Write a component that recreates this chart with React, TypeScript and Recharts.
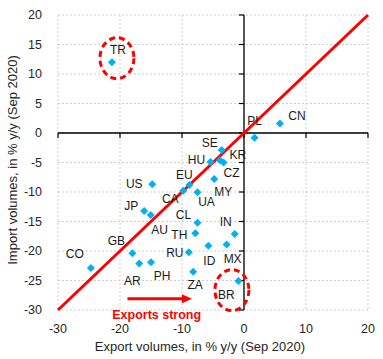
import React from 'react';
import { ScatterChart, Scatter, XAxis, YAxis, CartesianGrid, ReferenceLine, ReferenceDot } from 'recharts';

const countries = ['TR', 'CN', 'PL', 'SE', 'HU', 'KR', 'CZ', 'MY', 'EU', 'US', 'CA', 'UA', 'JP', 'AU', 'CL', 'TH', 'IN', 'GB', 'CO', 'AR', 'PH', 'RU', 'ID', 'MX', 'ZA', 'BR'];
const exportVolumes = [-21.3, 5.8, 1.7, -3.6, -5.4, -3.9, -3.3, -4.8, -8.8, -14.8, -9.8, -7.5, -16.1, -15.05, -7.5, -7.85, -1.5, -18.0, -24.7, -16.9, -15.0, -8.9, -5.75, -2.8, -8.2, -0.9];
const importVolumes = [12.0, 1.6, -0.8, -2.9, -4.9, -4.6, -5.0, -7.8, -8.8, -8.7, -9.8, -10.05, -13.2, -13.9, -15.2, -17.0, -17.1, -20.4, -22.9, -22.1, -21.9, -20.2, -19.1, -18.9, -23.5, -25.1];
const xTicks = [-30, -20, -10, 0, 10, 20];
const yTicks = [-30, -25, -20, -15, -10, -5, 0, 5, 10, 15, 20];
const highlighted = ['TR', 'BR'];

// label placement (pixel offsets of label centre from the marker)
const labelOffsets: Record<string, [number, number]> = {
  TR: [6, -12], CN: [17, -8], PL: [0, -17], SE: [-12, -7], HU: [-14, -2], KR: [18, -5],
  CZ: [8, 10], MY: [9, 13], EU: [-5, -10], US: [-18, 0], CA: [-13, 8], UA: [9, 10],
  JP: [-13, -5], AU: [9, 15], CL: [-14, -8], TH: [-16, 2], IN: [-9, -12], GB: [-16, -12],
  CO: [-16, -14], AR: [-7, 18], PH: [11, 14], RU: [-14, 1], ID: [1, 15], MX: [6, 14],
  ZA: [2, 13], BR: [-12, 14],
};
const ellipseOffsets: Record<string, [number, number]> = { TR: [5, -4], BR: [-6.5, 9] };

const data = countries.map((name, i) => ({ name, x: exportVolumes[i], y: importVolumes[i] }));

const FONT = 'Liberation Sans, Arial, sans-serif';
const BLUE = '#00B0F0';
const RED = '#FF0000';

const DiamondWithLabel = (props: any) => {
  const { cx, cy, payload } = props;
  const off = labelOffsets[payload.name] || [10, 0];
  const s = 4;
  return (
    <g>
      <polygon points={`${cx},${cy - s} ${cx + s},${cy} ${cx},${cy + s} ${cx - s},${cy}`} fill={BLUE} />
      <text x={cx + off[0]} y={cy + off[1]} textAnchor="middle" dominantBaseline="central" fontSize={12} fill="#1a1a1a" fontFamily={FONT}>
        {payload.name}
      </text>
    </g>
  );
};

const VerticalAxisLine = (props: any) => {
  const { x1, y1, y2 } = props;
  const top = Math.min(y1, y2);
  const bottom = Math.max(y1, y2);
  const n = yTicks.length - 1;
  const step = (bottom - top) / n;
  return (
    <g>
      <line x1={x1} y1={top} x2={x1} y2={bottom} stroke="#000" strokeWidth={1.3} />
      {yTicks.map((t, i) => (
        <line key={t} x1={x1 - 5} x2={x1} y1={top + i * step} y2={top + i * step} stroke="#000" strokeWidth={1.2} />
      ))}
    </g>
  );
};

const HorizontalAxisLine = (props: any) => {
  const { x1, x2, y1 } = props;
  const left = Math.min(x1, x2);
  const right = Math.max(x1, x2);
  const n = xTicks.length - 1;
  const step = (right - left) / n;
  return (
    <g>
      <line x1={left} y1={y1} x2={right} y2={y1} stroke="#000" strokeWidth={1.3} />
      {xTicks.map((t, i) => (
        <line key={t} x1={left + i * step} x2={left + i * step} y1={y1} y2={y1 + 5} stroke="#000" strokeWidth={1.2} />
      ))}
    </g>
  );
};

const ArrowShape = (props: any) => {
  const { x1, x2, y1 } = props;
  const start = Math.min(x1, x2);
  const end = Math.max(x1, x2);
  return (
    <g>
      <line x1={start} y1={y1} x2={end - 8} y2={y1} stroke={RED} strokeWidth={3} />
      <polygon points={`${end},${y1} ${end - 10},${y1 - 4.5} ${end - 10},${y1 + 4.5}`} fill={RED} />
      <text x={(start + end) / 2 - 3} y={y1 + 16} textAnchor="middle" dominantBaseline="central" fontSize={12.5} fontWeight="bold" fill={RED} fontFamily={FONT}>
        Exports strong
      </text>
    </g>
  );
};

const makeEllipse = (name: string) => (props: any) => {
  const { cx, cy } = props;
  const off = ellipseOffsets[name];
  return (
    <ellipse cx={cx + off[0]} cy={cy + off[1]} rx={17} ry={20.5} fill="none" stroke={RED} strokeWidth={3} strokeDasharray="6 4" />
  );
};

export default function App() {
  return (
    <div style={{ position: 'absolute', left: 0, top: 0, fontFamily: FONT }}>
      <ScatterChart width={383} height={359} margin={{ top: 15, right: 15, bottom: 0, left: 0 }}>
        <CartesianGrid stroke="#d0d0d0" strokeDasharray="2 2" />
        <XAxis
          type="number"
          dataKey="x"
          domain={[-30, 20]}
          ticks={xTicks}
          axisLine={false}
          tickLine={false}
          tickMargin={8}
          height={49}
          tick={{ fontSize: 12.5, fill: '#262626', fontFamily: FONT }}
          interval={0}
          label={{
            content: () => (
              <text x={200} y={346} textAnchor="middle" dominantBaseline="central" fontSize={13} fill="#262626" fontFamily={FONT}>
                Export volumes, in % y/y (Sep 2020)
              </text>
            ),
          }}
        />
        <YAxis
          type="number"
          dataKey="y"
          domain={[-30, 20]}
          ticks={yTicks}
          axisLine={false}
          tickLine={false}
          tickSize={6}
          tickMargin={10}
          width={58}
          interval={0}
          tick={{ fontSize: 12.5, fill: '#262626', fontFamily: FONT }}
          label={{
            content: () => (
              <text x={12} y={160} transform="rotate(-90 12 160)" textAnchor="middle" dominantBaseline="central" fontSize={13} fill="#262626" fontFamily={FONT}>
                Import volumes, in % y/y (Sep 2020)
              </text>
            ),
          }}
        />
        <ReferenceLine x={0} shape={VerticalAxisLine} ifOverflow="visible" />
        <ReferenceLine y={0} shape={HorizontalAxisLine} ifOverflow="visible" />
        <Scatter data={data} shape={DiamondWithLabel} isAnimationActive={false} />
        <ReferenceLine segment={[{ x: -30, y: -30 }, { x: 20, y: 20 }]} stroke={RED} strokeWidth={3} ifOverflow="visible" />
        {highlighted.map((name) => {
          const i = countries.indexOf(name);
          return (
            <ReferenceDot key={name} x={exportVolumes[i]} y={importVolumes[i]} r={1} shape={makeEllipse(name)} ifOverflow="visible" />
          );
        })}
        <ReferenceLine segment={[{ x: -18.8, y: -28.1 }, { x: -8.4, y: -28.1 }]} shape={ArrowShape} ifOverflow="visible" />
      </ScatterChart>
    </div>
  );
}
